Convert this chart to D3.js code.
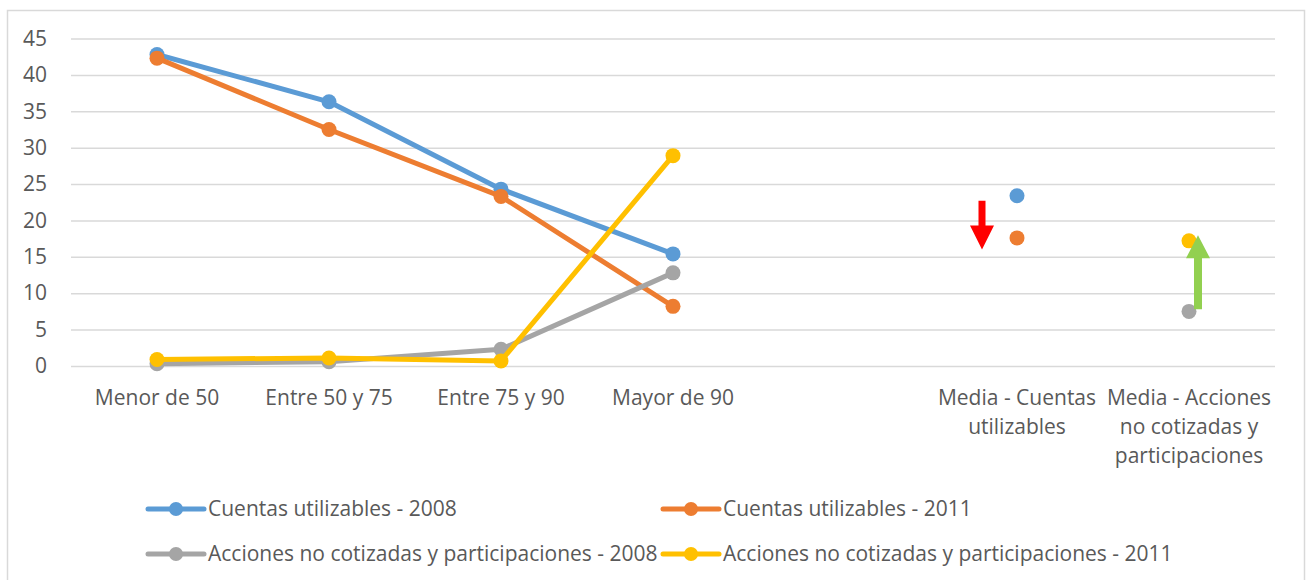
<!DOCTYPE html>
<html>
<head>
<meta charset="utf-8">
<script src="https://cdn.jsdelivr.net/npm/d3@7"></script>
<style>
  html, body { margin: 0; padding: 0; background: #fff; }
  text { font-family: 'Open Sans', 'Noto Sans', sans-serif; fill: #595959; }
</style>
</head>
<body>
<div id="svg-container"></div>
<script>
// categories (x axis)
const categories = [
  'Menor de 50',
  'Entre 50 y 75',
  'Entre 75 y 90',
  'Mayor de 90',
  '',
  'Media - Cuentas utilizables',
  'Media - Acciones no cotizadas y participaciones',
]

// series values, null = no point
const cuentas2008 = [42.8, 36.3, 24.3, 15.4, null, 23.4, null]
const cuentas2011 = [42.3, 32.5, 23.3, 8.2, null, 17.6, null]
const acciones2008 = [0.3, 0.6, 2.3, 12.8, null, null, 7.5]
const acciones2011 = [0.9, 1.1, 0.7, 28.9, null, null, 17.2]

const seriesNames = [
  'Cuentas utilizables - 2008',
  'Cuentas utilizables - 2011',
  'Acciones no cotizadas y participaciones - 2008',
  'Acciones no cotizadas y participaciones - 2011',
]
const seriesColors = ['#5b9bd5', '#ed7d31', '#a5a5a5', '#ffc000']

const yTicks = [0, 5, 10, 15, 20, 25, 30, 35, 40, 45]

;(function () {
  const svgWidth = 1309
  const svgHeight = 580

  const marginLeft = 71
  const marginRight = 34
  const marginTop = 38.5
  const plotBottom = 366

  const fontSize = 21

  const series = [cuentas2008, cuentas2011, acciones2008, acciones2011].map(
    (values, i) => ({ name: seriesNames[i], color: seriesColors[i], values }),
  )

  const svg = d3
    .select('#svg-container')
    .append('svg')
    .attr('width', svgWidth)
    .attr('height', svgHeight)

  // chart area border
  svg
    .append('rect')
    .attr('x', 7.5)
    .attr('y', 10.5)
    .attr('width', 1297)
    .attr('height', 600)
    .attr('fill', 'none')
    .attr('stroke', '#d9d9d9')
    .attr('stroke-width', 1.5)

  const x = d3
    .scaleBand()
    .domain(d3.range(categories.length))
    .range([marginLeft, svgWidth - marginRight])

  const y = d3.scaleLinear().domain([0, 45]).range([plotBottom, marginTop])

  const cx = i => x(i) + x.bandwidth() / 2

  // gridlines + y labels
  const yAxis = d3
    .axisLeft(y)
    .tickValues(yTicks)
    .tickSize(-(svgWidth - marginRight - marginLeft))
    .tickPadding(24)

  svg
    .append('g')
    .attr('transform', `translate(${marginLeft},0)`)
    .call(yAxis)
    .call(g => g.select('.domain').remove())
    .call(g =>
      g.selectAll('.tick line').attr('stroke', '#d9d9d9').attr('stroke-width', 1.5),
    )
    .call(g =>
      g
        .selectAll('.tick text')
        .attr('font-size', fontSize)
        .attr('fill', '#595959')
        .attr('font-family', "'Open Sans', sans-serif"),
    )

  // x labels, wrapped to band width
  const xLabels = svg
    .append('g')
    .selectAll('text')
    .data(categories)
    .join('text')
    .attr('x', (d, i) => cx(i))
    .attr('y', 405)
    .attr('text-anchor', 'middle')
    .attr('font-size', fontSize)

  xLabels.each(function (d, i) {
    const text = d3.select(this)
    const words = d.split(' ')
    const maxWidth = x.bandwidth()
    let line = []
    let tspan = text.append('tspan').attr('x', cx(i)).attr('dy', 0)
    words.forEach(w => {
      line.push(w)
      tspan.text(line.join(' '))
      if (tspan.node().getComputedTextLength() > maxWidth && line.length > 1) {
        line.pop()
        tspan.text(line.join(' '))
        line = [w]
        tspan = text
          .append('tspan')
          .attr('x', cx(i))
          .attr('dy', 29)
          .text(w)
      }
    })
  })

  // lines
  const line = d3
    .line()
    .defined(d => d !== null)
    .x((d, i) => cx(i))
    .y(d => y(d))

  series.forEach(s => {
    svg
      .append('path')
      .attr('d', line(s.values))
      .attr('fill', 'none')
      .attr('stroke', s.color)
      .attr('stroke-width', 5)
      .attr('stroke-linejoin', 'round')
      .attr('stroke-linecap', 'round')

    svg
      .append('g')
      .selectAll('circle')
      .data(s.values.map((v, i) => ({ v, i })).filter(d => d.v !== null))
      .join('circle')
      .attr('cx', d => cx(d.i))
      .attr('cy', d => y(d.v))
      .attr('r', 7.5)
      .attr('fill', s.color)
  })

  // arrows (annotations)
  const arrow = (xc, yFrom, yTo, shaftW, headW, headL, color) => {
    const dir = yTo > yFrom ? 1 : -1
    const yBase = yTo - dir * headL
    const p = d3.path()
    p.moveTo(xc - shaftW / 2, yFrom)
    p.lineTo(xc + shaftW / 2, yFrom)
    p.lineTo(xc + shaftW / 2, yBase)
    p.lineTo(xc + headW / 2, yBase)
    p.lineTo(xc, yTo)
    p.lineTo(xc - headW / 2, yBase)
    p.lineTo(xc - shaftW / 2, yBase)
    p.closePath()
    svg.append('path').attr('d', p.toString()).attr('fill', color)
  }
  arrow(cx(5) - 35, y(22.7), y(16), 7, 24, 24, '#ff0000')
  arrow(cx(6) + 9, y(7.8), y(17.97), 8, 24, 23, '#92d050')

  // legend
  const legendPos = [
    [148, 509],
    [663, 509],
    [148, 554],
    [663, 554],
  ]
  const legend = svg
    .append('g')
    .selectAll('g')
    .data(series)
    .join('g')
    .attr('transform', (d, i) => `translate(${legendPos[i][0]},${legendPos[i][1]})`)

  legend
    .append('line')
    .attr('x1', 0)
    .attr('x2', 56)
    .attr('stroke', d => d.color)
    .attr('stroke-width', 5)
    .attr('stroke-linecap', 'round')
  legend
    .append('circle')
    .attr('cx', 28)
    .attr('r', 7)
    .attr('fill', d => d.color)
  legend
    .append('text')
    .attr('x', 60)
    .attr('dy', '0.35em')
    .attr('font-size', fontSize)
    .text(d => d.name)
})()
</script>
</body>
</html>
